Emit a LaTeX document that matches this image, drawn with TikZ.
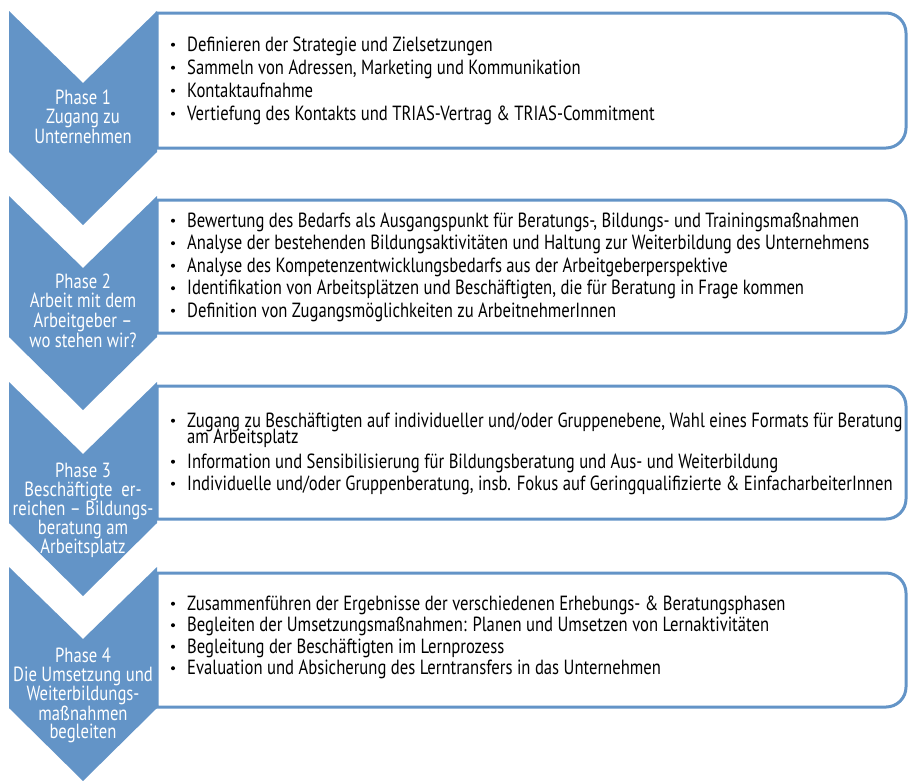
\documentclass[tikz,border=0pt]{standalone}
\usepackage{fontspec}
\setmainfont[FakeStretch=0.812]{PT Sans}
\definecolor{phaseblue}{RGB}{99,148,199}
\begin{document}
\begin{tikzpicture}[x=1pt,y=-1pt,
  chev/.style={fill=phaseblue},
  frame/.style={draw=phaseblue, line width=3pt, fill=white},
  itemtxt/.style={anchor=base west, inner sep=0pt, font=\fontsize{20.5}{20}\selectfont, text=black},
  phasetxt/.style={anchor=base, inner sep=0pt, font=\fontsize{20.5}{20}\selectfont, text=white},
  bul/.style={circle, fill=black, inner sep=0pt, minimum size=4pt}]
\useasboundingbox (0,0) rectangle (909,780);
% boxes
\foreach \a/\b in {13/148, 200/333, 386/519, 573/707}{
  \draw[frame] (157,\a) -- (886,\a) .. controls (897,\a) and (906,{\a+9}) .. (906,{\a+20})
    -- (906,{\b-20}) .. controls (906,{\b-9}) and (897,\b) .. (886,\b) -- (157,\b) -- cycle;
}
% chevrons
\foreach \T in {11,196,382,567}{
  \fill[chev] (9,\T) -- (83,{\T+72}) -- (157,\T) -- (157,{\T+141}) -- (83,{\T+214}) -- (9,{\T+141}) -- cycle;
}
% phase texts
\foreach \y/\t [count=\i] in {104/{Phase 1}, 123.5/{Zugang zu}, 143/{Unternehmen}}
  \node[phasetxt] (pa\i) at (83,\y) {\t};
\foreach \y/\t [count=\i] in {288/{Phase 2}, 307.7/{Arbeit mit dem}, 327.3/{Arbeitgeber –}, 347/{wo stehen wir?}}
  \node[phasetxt] (pb\i) at (83,\y) {\t};
\foreach \y/\t [count=\i] in {477/{Phase 3}, 496/{Beschäftigte\ \ er-}, 515/{reichen – Bildungs-}, 534/{beratung am}, 553/{Arbeitsplatz}}
  \node[phasetxt] (pc\i) at (83,\y) {\t};
\foreach \y/\t [count=\i] in {662/{Phase 4}, 681.5/{Die Umsetzung und}, 700.5/{Weiterbildungs-}, 720/{maßnahmen}, 738/{begleiten}}
  \node[phasetxt] (pd\i) at (83,\y) {\t};
% box 1
\foreach \y/\t [count=\i] in {51/{Definieren der Strategie und Zielsetzungen},
  74/{Sammeln von Adressen, Marketing und Kommunikation},
  97/{Kontaktaufnahme},
  120/{Vertiefung des Kontakts und TRIAS-Vertrag \& TRIAS-Commitment}}{
  \node[bul] (ba\i) at (173,{\y-6.3}) {};
  \node[itemtxt] (ta\i) at (187,\y) {\t};
}
% box 2
\foreach \y/\t [count=\i] in {227/{Bewertung des Bedarfs als Ausgangspunkt für Beratungs-, Bildungs- und Trainingsmaßnahmen},
  249.5/{Analyse der bestehenden Bildungsaktivitäten und Haltung zur Weiterbildung des Unternehmens},
  272/{Analyse des Kompetenzentwicklungsbedarfs aus der Arbeitgeberperspektive},
  294.5/{Identifikation von Arbeitsplätzen und Beschäftigten, die für Beratung in Frage kommen},
  317/{Definition von Zugangsmöglichkeiten zu ArbeitnehmerInnen}}{
  \node[bul] (bb\i) at (173,{\y-6.3}) {};
  \node[itemtxt] (tb\i) at (187,\y) {\t};
}
% box 3
\foreach \y/\t [count=\i] in {427/{Zugang zu Beschäftigten auf individueller und/oder Gruppenebene, Wahl eines Formats für Beratung},
  468/{Information und Sensibilisierung für Bildungsberatung und Aus- und Weiterbildung},
  490/{Individuelle und/oder Gruppenberatung, insb. Fokus auf Geringqualifizierte \& EinfacharbeiterInnen}}{
  \node[bul] (bc\i) at (173,{\y-6.3}) {};
  \node[itemtxt] (tc\i) at (187,\y) {\t};
}
\node[itemtxt] (tc1b) at (187,443.5) {am Arbeitsplatz};
% box 4
\foreach \y/\t [count=\i] in {610/{Zusammenführen der Ergebnisse der verschiedenen Erhebungs- \& Beratungsphasen},
  631.5/{Begleiten der Umsetzungsmaßnahmen: Planen und Umsetzen von Lernaktivitäten},
  653/{Begleitung der Beschäftigten im Lernprozess},
  674.5/{Evaluation und Absicherung des Lerntransfers in das Unternehmen}}{
  \node[bul] (bd\i) at (173,{\y-6.3}) {};
  \node[itemtxt] (td\i) at (187,\y) {\t};
}
\end{tikzpicture}
\end{document}
